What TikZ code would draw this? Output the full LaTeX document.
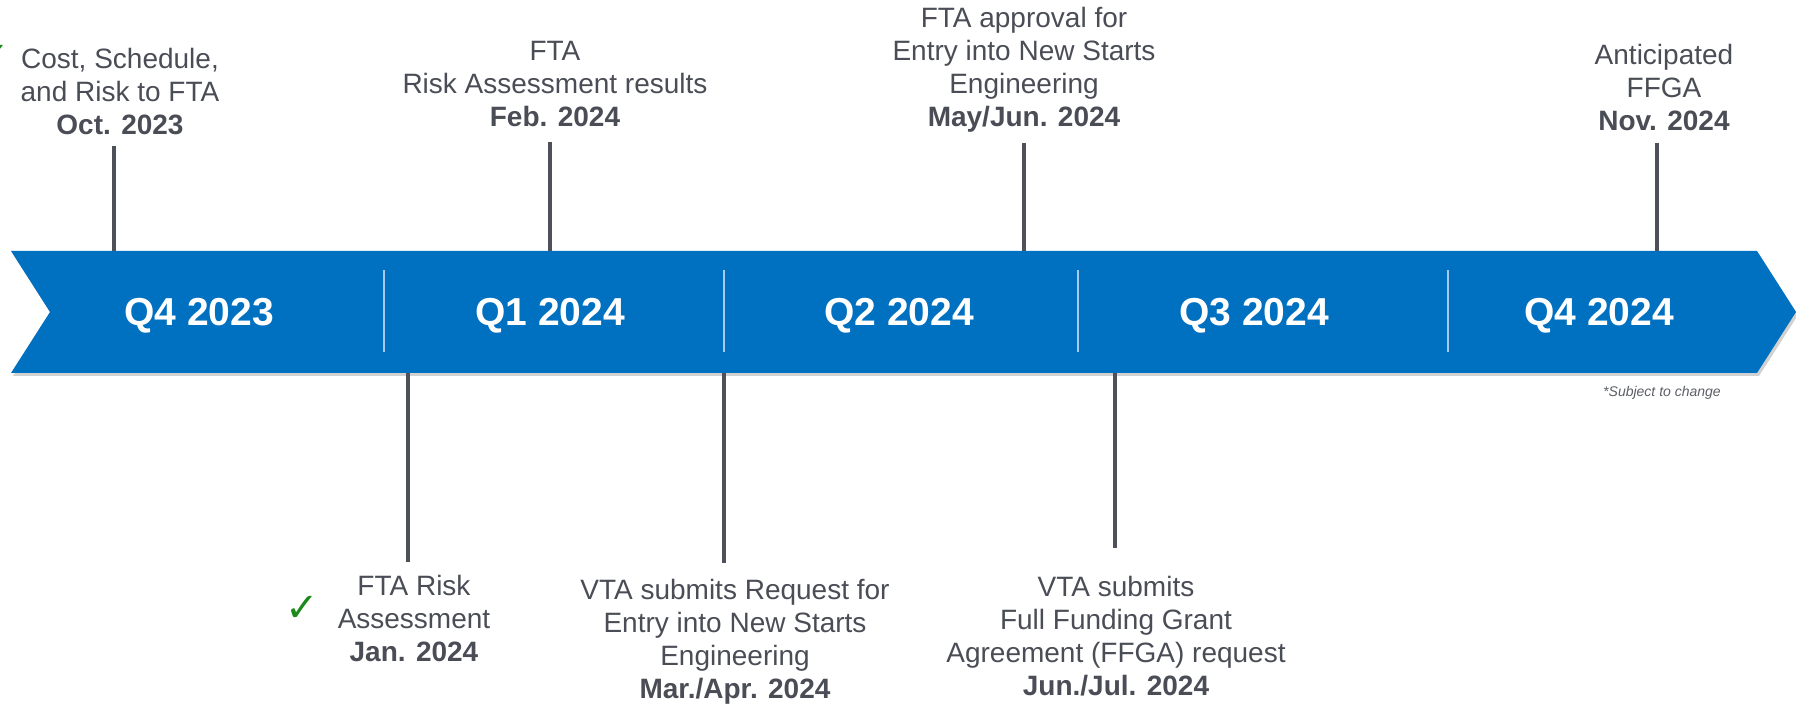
\documentclass[tikz,border=0pt]{standalone}
\usepackage{fontspec}
\setmainfont{Liberation Sans}
\newfontfamily\tickfont{DejaVu Sans}
\definecolor{bandblue}{HTML}{0070C0}
\definecolor{labelgray}{HTML}{4A4D55}
\definecolor{stemgray}{HTML}{4E5159}
\definecolor{dividerblue}{HTML}{A9C9EA}
\definecolor{tickgreen}{HTML}{1B8A1B}

\begin{document}
\begin{tikzpicture}[x=0.5pt,y=-0.5pt,
		event/.style={align=center, inner sep=0pt, text depth=0pt, text=labelgray,
			font=\fontsize{14pt}{16.5pt}\selectfont},
		quarter/.style={text=white, font=\fontsize{19.5pt}{23pt}\selectfont\bfseries},
		stem/.style={draw=stemgray, line width=2pt},
		divider/.style={draw=dividerblue, line width=0.8pt},
		done/.style={text=tickgreen, inner sep=0pt, font=\fontsize{20pt}{20pt}\tickfont}]
		\useasboundingbox (0,0) rectangle (1796,705);

		% the quarter band
		\fill[black, opacity=0.18] (13,254) -- (1759,254) -- (1798,315) -- (1759,376)
			-- (13,376) -- (52,315) -- cycle;
		\fill[bandblue] (11,251) -- (1757,251) -- (1796,312) -- (1757,373)
			-- (11,373) -- (50,312) -- cycle;
		\foreach \x in {384,724,1078,1448}
			\draw[divider] (\x,270) -- (\x,352);

		\node[quarter] (q4a) at (199,316) {Q4 2023};
		\node[quarter] (q1) at (550,316) {Q1 2024};
		\node[quarter] (q2) at (899,316) {Q2 2024};
		\node[quarter] (q3) at (1254,316) {Q3 2024};
		\node[quarter] (q4b) at (1599,316) {Q4 2024};

		% where the stems meet the band
		\coordinate (octband) at (114,251);
		\coordinate (febband) at (550,251);
		\coordinate (mayband) at (1024,251);
		\coordinate (novband) at (1657,251);
		\coordinate (janband) at (408,373);
		\coordinate (marband) at (724,373);
		\coordinate (junband) at (1115,373);

		% milestones above
		\node[event, anchor=south] (oct) at (120,135) {Cost, Schedule,\\and Risk to FTA\\\textbf{Oct. 2023}};
		\node[event, anchor=south] (feb) at (555,127) {FTA\\Risk Assessment results\\\textbf{Feb. 2024}};
		\node[event, anchor=south] (may) at (1024,127) {FTA approval for\\Entry into New Starts\\Engineering\\\textbf{May/Jun. 2024}};
		\node[event, anchor=south] (nov) at (1664,131) {Anticipated\\FFGA\\\textbf{Nov. 2024}};

		% milestones below
		\node[event, anchor=south] (jan) at (414,662) {FTA Risk\\Assessment\\\textbf{Jan. 2024}};
		\node[event, anchor=south] (mar) at (735,699) {VTA submits Request for\\Entry into New Starts\\Engineering\\\textbf{Mar./Apr. 2024}};
		\node[event, anchor=south] (jun) at (1116,696) {VTA submits\\Full Funding Grant\\Agreement (FFGA) request\\\textbf{Jun./Jul. 2024}};

		\draw[stem, shorten <=5.5pt] (oct.south -| octband) -- (octband);
		\draw[stem, shorten <=7.5pt] (feb.south -| febband) -- (febband);
		\draw[stem, shorten <=8pt] (may.south -| mayband) -- (mayband);
		\draw[stem, shorten <=6pt] (nov.south -| novband) -- (novband);
		\draw[stem, shorten <=6.5pt] (jan.north -| janband) -- (janband);
		\draw[stem, shorten <=8pt] (mar.north -| marband) -- (marband);
		\draw[stem, shorten <=14pt] (jun.north -| junband) -- (junband);

		% done marks
		\node[done] (chkoct) at (-7,58) {✓};
		\node[done] (chkjan) at (302,609) {✓};

		\node[event, anchor=south, text=labelgray!90, font=\fontsize{7pt}{8pt}\selectfont\itshape]
			(note) at (1662,397) {*Subject to change};
\end{tikzpicture}
\end{document}
